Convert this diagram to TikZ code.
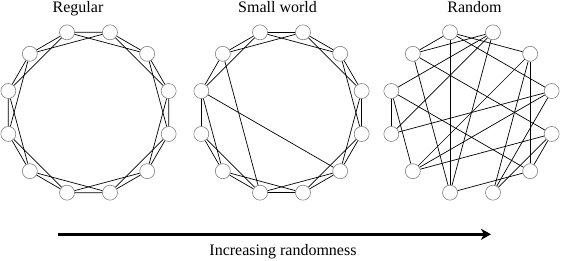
\documentclass[tikz,border=0pt]{standalone}
\usepackage{fontspec}
\setmainfont{Liberation Serif}
\usetikzlibrary{calc,arrows.meta}
\begin{document}
\begin{tikzpicture}[x=1pt, y=1pt,
  vtx/.style={circle, draw=black!50, fill=white, line width=0.6pt,
    minimum size=15pt, inner sep=0pt},
  lnk/.style={line width=0.7pt},
  caption/.style={font=\fontsize{16}{19}\selectfont, anchor=base, inner sep=0pt}]
  \useasboundingbox (0,0) rectangle (562,261);

  % Titles
  \node[caption] (tReg) at (78,248.5) {Regular};
  \node[caption] (tSw) at (277.5,248.5) {Small world};
  \node[caption] (tRnd) at (474.5,248.5) {Random};

  % 12 vertices on each ring
  \foreach \g/\cx in {reg/88.5, sw/281.5, rnd/471.5}
    \foreach \k in {1,...,12}
      \node[vtx] (\g\k) at ($(\cx,148.5)+({45+30*\k}:83)$) {};

  % Regular: nearest and next-nearest neighbours
  \foreach \k in {1,...,12} {
    \pgfmathtruncatemacro\a{mod(\k,12)+1}
    \pgfmathtruncatemacro\b{mod(\k+1,12)+1}
    \draw[lnk] (reg\k) -- (reg\a) (reg\k) -- (reg\b);
  }

  % Small world: one edge rewired, one shortcut
  \foreach \k in {1,...,12} {
    \pgfmathtruncatemacro\a{mod(\k,12)+1}
    \draw[lnk] (sw\k) -- (sw\a);
  }
  \foreach \k in {1,2,4,5,6,7,8,9,10,11,12} {
    \pgfmathtruncatemacro\b{mod(\k+1,12)+1}
    \draw[lnk] (sw\k) -- (sw\b);
  }
  \draw[lnk] (sw3) -- (sw7) (sw4) -- (sw9);

  % Random
  \foreach \i/\j in {2/3, 3/1, 2/12, 2/7, 3/10, 3/7, 4/1, 5/1, 1/7, 4/5,
                     4/6, 4/9, 5/11, 6/12, 6/11, 6/10, 7/9, 12/9, 12/8,
                     2/11, 10/8, 10/9, 11/8}
    \draw[lnk] (rnd\i) -- (rnd\j);

  % Arrow
  \coordinate (aStart) at (58,26.7);
  \coordinate (aEnd) at (491,26.7);
  \draw[-{Stealth[length=10pt,width=11pt,inset=3pt]}, line width=2.7pt] (aStart) -- (aEnd);
  \node[caption] (tArrow) at (283,5) {Increasing randomness};
\end{tikzpicture}
\end{document}
